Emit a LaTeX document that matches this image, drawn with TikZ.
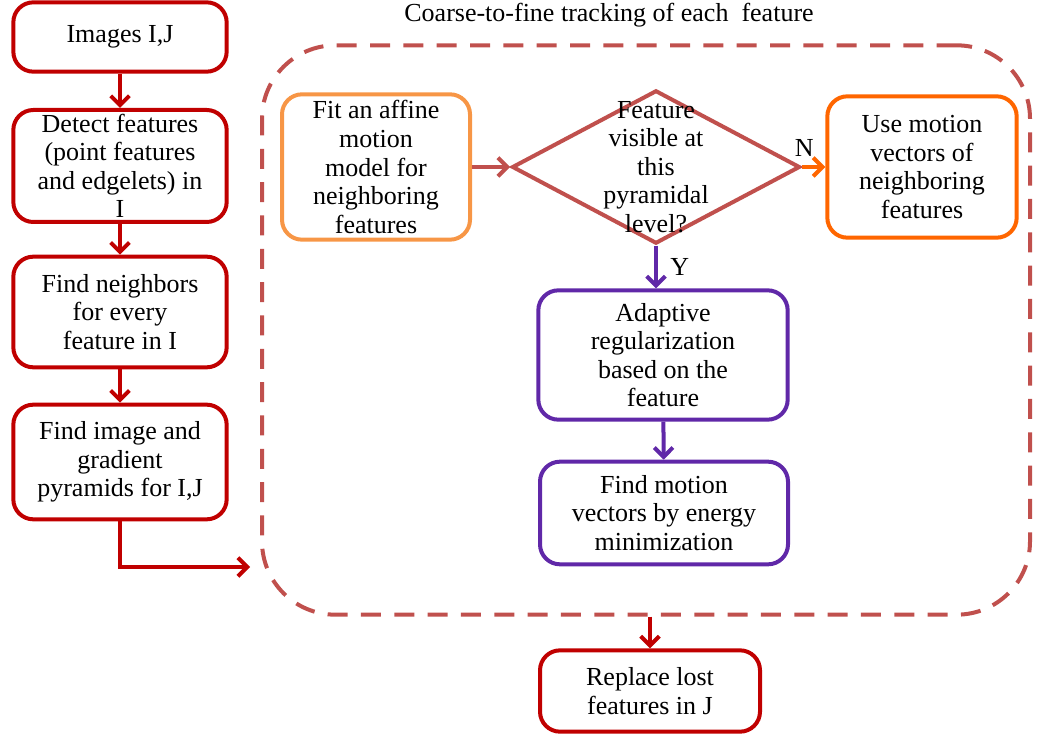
\documentclass[tikz,border=0pt]{standalone}
\usepackage{fontspec}
\setmainfont{Liberation Serif}
\usetikzlibrary{arrows.meta,shapes.geometric}

\definecolor{darkred}{RGB}{192,0,0}
\definecolor{brick}{RGB}{192,80,77}
\definecolor{paleorange}{RGB}{247,150,70}
\definecolor{fullorange}{RGB}{255,102,0}
\definecolor{regpurple}{RGB}{96,40,168}

\begin{document}
\begin{tikzpicture}[x=0.75pt,y=-0.75pt,>={Straight Barb[length=7pt,width=14pt]},
  line width=3pt,font=\fontsize{19.5}{21.4}\selectfont]
  \tikzstyle{stepbox}=[draw,rounded corners=15pt,align=center,inner sep=2pt]
  \tikzstyle{leftbox}=[stepbox,draw=darkred,minimum width=160pt]
  \tikzstyle{decision}=[diamond,draw=brick,minimum width=216pt,minimum height=115pt,inner sep=0pt]

  \useasboundingbox (0,0) rectangle (1048,737);

  % left column
  \node[leftbox,minimum height=52pt] (images) at (120,37) {Images I,J};
  \node[leftbox,minimum height=84pt] (detect) at (120,166)
    {Detect features\\(point features\\and edgelets) in\\I};
  \node[leftbox,minimum height=83pt] (neigh) at (120,312)
    {Find neighbors\\for every\\feature in I};
  \node[leftbox,minimum height=86pt] (pyr) at (120,462)
    {Find image and\\gradient\\pyramids for I,J};

  % tracking loop
  \node (title) at (609,15) {Coarse-to-fine tracking of each\ \ feature};
  \node[draw=brick,dash pattern=on 15pt off 10pt,rounded corners=55pt,
    minimum width=576pt,minimum height=427pt] (track) at (646,330) {};
  \coordinate (entry) at (250,567);

  \node[stepbox,draw=paleorange,minimum width=141pt,minimum height=109pt] (fit) at (376,167)
    {Fit an affine\\motion\\model for\\neighboring\\features};
  \node[decision] (vis) at (656,167) {};
  \node[align=center] (vistext) at (vis) {Feature\\visible at\\this\\pyramidal\\level?};
  \node[stepbox,draw=fullorange,minimum width=142pt,minimum height=106pt] (usevec) at (922,167)
    {Use motion\\vectors of\\neighboring\\features};
  \node[stepbox,draw=regpurple,minimum width=187pt,minimum height=97pt] (adapt) at (663,355)
    {Adaptive\\regularization\\based on the\\feature};
  \node[stepbox,draw=regpurple,minimum width=186pt,minimum height=77pt] (energy) at (664,513)
    {Find motion\\vectors by energy\\minimization};

  \node[leftbox,minimum width=165pt,minimum height=61pt] (replace) at (650,691)
    {Replace lost\\features in J};

  % connectors
  \draw[->,darkred] (images) -- (detect);
  \draw[->,darkred] (detect) -- (neigh);
  \draw[->,darkred] (neigh) -- (pyr);
  \draw[->,darkred] (pyr.south) |- (entry);
  \draw[->,brick] (fit) -- (vis.west);
  \draw[->,fullorange] (vis.east) -- node[above,text=black,pos=0.1,yshift=3pt] {N} (usevec);
  \draw[->,regpurple] (vis.south) -- node[right,text=black,pos=0.5,xshift=6pt] {Y} (vis.south |- adapt.north);
  \draw[->,regpurple] (adapt) -- (energy);
  \draw[->,darkred] (replace.north |- track.south) -- (replace);
\end{tikzpicture}
\end{document}
